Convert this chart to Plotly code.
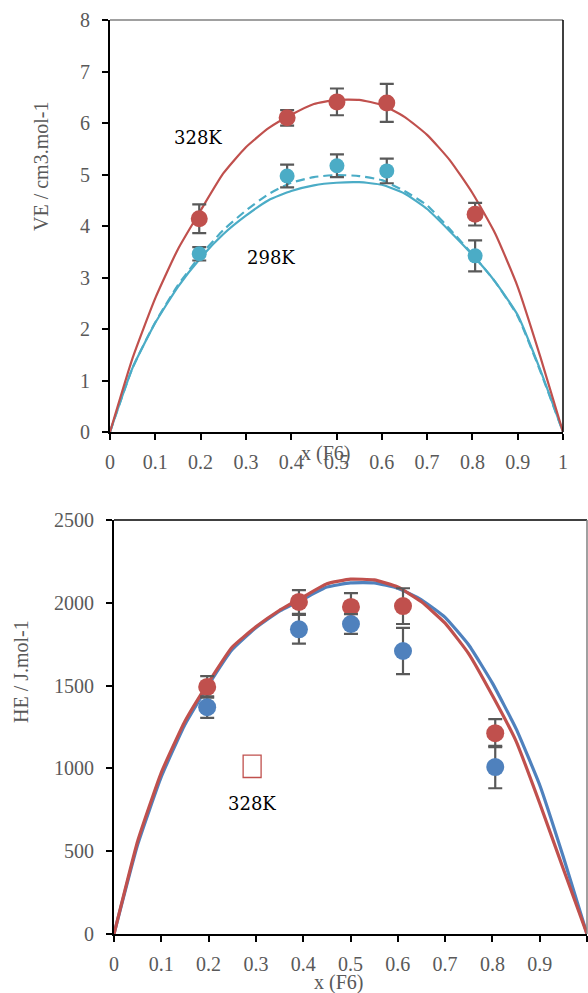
import plotly.graph_objects as go

W, H = 588, 993

# ---------------- Data: top chart (VE) ----------------
x_curve = [0, 0.05, 0.1, 0.15, 0.2, 0.25, 0.3, 0.35, 0.4, 0.45, 0.5,
           0.55, 0.6, 0.65, 0.7, 0.75, 0.8, 0.85, 0.9, 0.95, 1.0]
ve_328_fit = [0, 1.44, 2.6, 3.55, 4.3, 5.02, 5.53, 5.9, 6.16, 6.37, 6.45,
              6.45, 6.35, 6.12, 5.77, 5.28, 4.64, 3.86, 2.82, 1.46, 0]
ve_298_fit = [0, 1.25, 2.12, 2.82, 3.38, 3.84, 4.2, 4.5, 4.68, 4.79, 4.84,
              4.85, 4.8, 4.63, 4.33, 3.9, 3.44, 2.92, 2.27, 1.2, 0]
ve_298_fit2 = [0, 1.25, 2.13, 2.85, 3.43, 3.92, 4.3, 4.62, 4.84, 4.95, 4.99,
               4.97, 4.89, 4.68, 4.4, 3.94, 3.45, 2.92, 2.25, 1.18, 0]

x_pts = [0.197, 0.391, 0.501, 0.611, 0.806]
ve_328 = [4.14, 6.10, 6.41, 6.39, 4.23]
ve_328_err = [0.28, 0.15, 0.26, 0.37, 0.22]
ve_298 = [3.46, 4.97, 5.17, 5.07, 3.42]
ve_298_err = [0.13, 0.22, 0.22, 0.24, 0.3]

# ---------------- Data: bottom chart (HE) ----------------
he_a_fit = [0, 540, 950, 1265, 1505, 1718, 1850, 1950, 2022, 2095, 2120,
            2120, 2088, 2018, 1912, 1745, 1515, 1240, 900, 465, 0]
he_b_fit = [0, 560, 975, 1285, 1520, 1733, 1855, 1955, 2035, 2115, 2143,
            2138, 2096, 2006, 1877, 1692, 1440, 1165, 790, 392, 0]

he_b = [1492, 2005, 1975, 1980, 1213]
he_b_err = [65, 72, 84, 108, 85]
he_a = [1370, 1840, 1872, 1709, 1008]
he_a_err = [65, 87, 60, 140, 128]

RED = "#C0504D"
CYAN = "#4BACC6"
BLUE = "#4F81BD"
GREY = "#595959"
TICKFONT = dict(family="Liberation Serif", size=20, color=GREY)


def px(x):
    return x / W


def py(y):
    return 1 - y / H


fig = go.Figure()

# top chart traces
fig.add_trace(go.Scatter(x=x_curve, y=ve_298_fit2, mode="lines",
                         line=dict(color=CYAN, width=2.2, dash="9px,5px", shape="spline", smoothing=0.5),
                         xaxis="x", yaxis="y", showlegend=False))
fig.add_trace(go.Scatter(x=x_curve, y=ve_298_fit, mode="lines",
                         line=dict(color=CYAN, width=2.2, shape="spline", smoothing=0.5),
                         xaxis="x", yaxis="y", showlegend=False))
fig.add_trace(go.Scatter(x=x_curve, y=ve_328_fit, mode="lines",
                         line=dict(color=RED, width=2.2, shape="spline", smoothing=0.5),
                         xaxis="x", yaxis="y", showlegend=False))
fig.add_trace(go.Scatter(x=x_pts, y=ve_298, mode="markers",
                         marker=dict(color=CYAN, size=15),
                         error_y=dict(type="data", array=ve_298_err, color=GREY, thickness=2.2, width=7),
                         xaxis="x", yaxis="y", showlegend=False))
fig.add_trace(go.Scatter(x=x_pts, y=ve_328, mode="markers",
                         marker=dict(color=RED, size=17),
                         error_y=dict(type="data", array=ve_328_err, color=GREY, thickness=2.2, width=7),
                         xaxis="x", yaxis="y", showlegend=False))

# bottom chart traces
fig.add_trace(go.Scatter(x=x_curve, y=he_a_fit, mode="lines",
                         line=dict(color=BLUE, width=3.2, shape="spline", smoothing=0.4),
                         xaxis="x2", yaxis="y2", showlegend=False))
fig.add_trace(go.Scatter(x=x_curve, y=he_b_fit, mode="lines",
                         line=dict(color=RED, width=3.2, shape="spline", smoothing=0.4),
                         xaxis="x2", yaxis="y2", showlegend=False))
fig.add_trace(go.Scatter(x=x_pts, y=he_b, mode="markers",
                         marker=dict(color=RED, size=18),
                         error_y=dict(type="data", array=he_b_err, color=GREY, thickness=2.2, width=7),
                         xaxis="x2", yaxis="y2", showlegend=False))
fig.add_trace(go.Scatter(x=x_pts, y=he_a, mode="markers",
                         marker=dict(color=BLUE, size=18),
                         error_y=dict(type="data", array=he_a_err, color=GREY, thickness=2.2, width=7),
                         xaxis="x2", yaxis="y2", showlegend=False))

axis_common = dict(showgrid=False, zeroline=False, showline=True, linecolor="black", linewidth=2,
                   ticks="outside", ticklen=6, tickwidth=1.5, tickcolor="black",
                   tickfont=TICKFONT, automargin=False)

fig.update_layout(
    width=W, height=H,
    margin=dict(l=0, r=0, t=0, b=0),
    paper_bgcolor="white", plot_bgcolor="white",
    xaxis=dict(domain=[px(110), px(563)], range=[0, 1], dtick=0.1, tick0=0,
               anchor="y", ticklabelstandoff=5, **axis_common),
    yaxis=dict(domain=[py(432), py(20)], range=[0, 8], dtick=1, tick0=0,
               anchor="x", ticklabelstandoff=8, **axis_common),
    xaxis2=dict(domain=[px(114), px(587)], range=[0, 1], dtick=0.1, tick0=0,
                anchor="y2", ticklabelstandoff=5, **axis_common),
    yaxis2=dict(domain=[py(934), py(520)], range=[0, 2500], dtick=500, tick0=0,
                anchor="x2", ticklabelstandoff=8, **axis_common),
)

# frame lines
fig.add_shape(type="line", xref="x domain", yref="y domain", x0=0, x1=1, y0=1, y1=1,
              line=dict(color="#808080", width=1.5))
fig.add_shape(type="line", xref="x domain", yref="y domain", x0=1, x1=1, y0=0, y1=1,
              line=dict(color="black", width=1.5))
fig.add_shape(type="line", xref="x2 domain", yref="y2 domain", x0=0, x1=1, y0=1, y1=1,
              line=dict(color="black", width=1.5))
fig.add_shape(type="line", xref="x2 domain", yref="y2 domain", x0=1, x1=1, y0=0, y1=1,
              line=dict(color="#808080", width=1.5))

# missing-glyph box in bottom chart
fig.add_shape(type="rect", xref="x2", yref="y2", x0=0.273, x1=0.311, y0=945, y1=1080,
              line=dict(color=RED, width=1.3), fillcolor="rgba(0,0,0,0)")

TITLEFONT = dict(family="Liberation Serif", size=20, color=GREY)
LABELFONT = dict(family="DejaVu Serif", size=18, color="black")

fig.add_annotation(x=px(41), y=py(167), xref="paper", yref="paper", text="VE / cm3.mol-1",
                   textangle=-90, showarrow=False, font=TITLEFONT, xanchor="center", yanchor="middle")
fig.add_annotation(x=px(326), y=py(453), xref="paper", yref="paper", text="x (F6)",
                   showarrow=False, font=TITLEFONT, xanchor="center", yanchor="middle")
fig.add_annotation(x=px(21), y=py(672), xref="paper", yref="paper", text="HE / J.mol-1",
                   textangle=-90, showarrow=False, font=TITLEFONT, xanchor="center", yanchor="middle")
fig.add_annotation(x=px(338), y=py(982), xref="paper", yref="paper", text="x (F6)",
                   showarrow=False, font=TITLEFONT, xanchor="center", yanchor="middle")

fig.add_annotation(x=0.194, y=5.71, xref="x", yref="y", text="328K", showarrow=False, font=LABELFONT)
fig.add_annotation(x=0.355, y=3.38, xref="x", yref="y", text="298K", showarrow=False, font=LABELFONT)
fig.add_annotation(x=0.292, y=790, xref="x2", yref="y2", text="328K", showarrow=False, font=LABELFONT)

fig.write_html("out.html", config={"displayModeBar": False},
               post_script="document.body.style.margin='0px';document.body.style.overflow='hidden';")
